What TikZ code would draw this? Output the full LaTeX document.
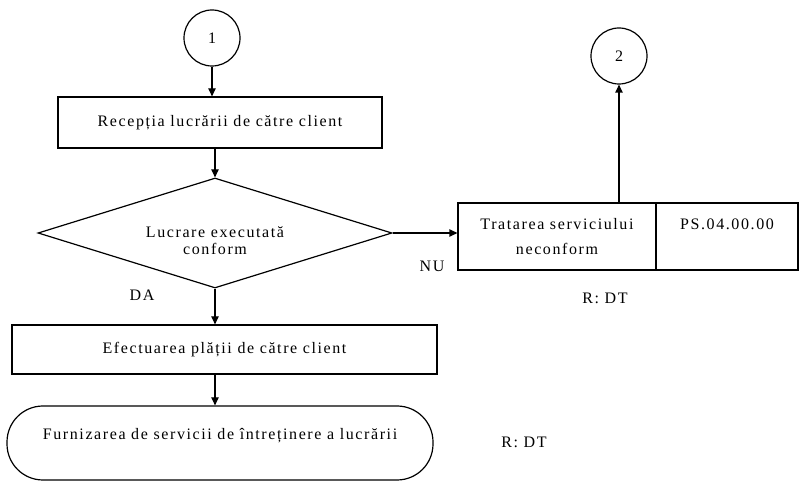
\documentclass[tikz,border=0pt]{standalone}
\usepackage{fontspec}
\setmainfont{Liberation Serif}[LetterSpace=10]
\usepackage{tikz}
\usetikzlibrary{positioning,arrows.meta,shapes.geometric,calc}
\tikzset{
  conn/.style={circle, draw, line width=0.9pt, minimum size=42pt, inner sep=0pt},
  box/.style={rectangle, draw, line width=0.9pt, align=center, inner sep=2pt},
  decision/.style={diamond, aspect=3.2, draw, line width=0.9pt, align=center, inner sep=0pt,
    minimum width=265.5pt, minimum height=82.5pt, font=\fontsize{12}{12.75}\selectfont},
  term/.style={rectangle, rounded corners=27pt, draw, line width=0.9pt, align=center,
    minimum width=319.5pt, minimum height=55.5pt},
  lbl/.style={inner sep=1pt},
  arr/.style={-{Triangle[length=6pt,width=5.5pt]}, line width=0.9pt},
}

\begin{document}
\begin{tikzpicture}[x=0.75pt, y=-0.75pt, font=\fontsize{12}{14}\selectfont]
    \useasboundingbox (0,0) rectangle (801,481);
    % main flow
    \node[conn] (c1) at (212,38) {1};
    \node[box, minimum width=243pt, minimum height=38.25pt] (rec) at (220,122.5) {Recepția lucrării de către client};
    \node[decision] (dec) at (215,233) {\mbox{}\\[7.5pt]Lucrare executată\\conform};
    \node[box, minimum width=318.75pt, minimum height=36.75pt] (plata) at (224.5,349.5) {Efectuarea plății de către client};
    \node[term] (furn) at (220,443) {Furnizarea de servicii de întreținere a lucrării\\ \mbox{}};
    % ramura NU
    \node[box, minimum width=148.5pt, minimum height=50.25pt] (trat) at (557,236.5) {Tratarea serviciului\\[5pt]neconform};
    \node[box, minimum width=106.5pt, minimum height=50.25pt] (ps) at (727,236.5) {PS.04.00.00\\[5pt]\mbox{}};
    \node[conn] (c2) at (619,56) {2};
    % etichete
    \node[lbl] (nu) at (432,266) {NU};
    \node[lbl] (da) at (142,295) {DA};
    \node[lbl] (r1) at (605,298) {R: DT};
    \node[lbl] (r2) at (524,442) {R: DT};
    % sageti
    \draw[arr] (c1.south) -- (c1.south |- rec.north);
    \draw[arr] (dec.north |- rec.south) -- (dec.north);
    \draw[arr] (dec.south) -- (dec.south |- plata.north);
    \draw[arr] (dec.south |- plata.south) -- (dec.south |- furn.north);
    \draw[arr] (dec.east) -- (dec.east -| trat.west);
    \draw[arr] (c2.south |- trat.north) -- (c2.south);
  \end{tikzpicture}
\end{document}
